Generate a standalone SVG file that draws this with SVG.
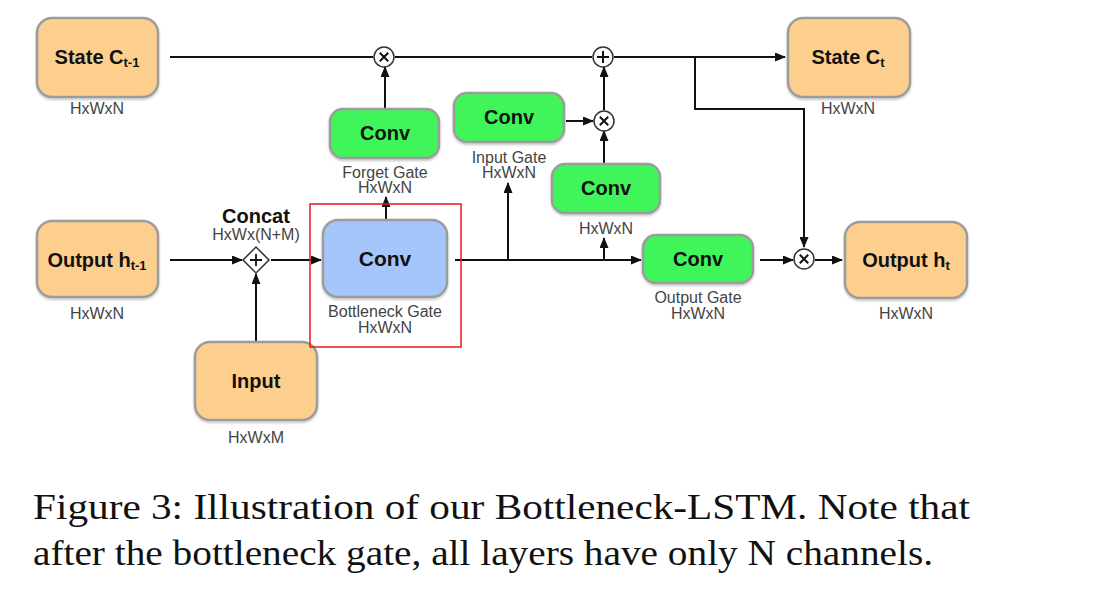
<svg xmlns="http://www.w3.org/2000/svg" width="1097" height="593" viewBox="0 0 1097 593">
<style>
.box{stroke:#9c9c9c;stroke-width:2.5}
.org{fill:#fdcf8f}
.grn{fill:#40f55a}
.blu{fill:#a5c6fa}
.t{font-family:"Liberation Sans",Arial,sans-serif;font-weight:bold;font-size:20px;fill:#111;text-anchor:middle}
.sub{font-size:13px}
.lb{font-family:"Liberation Sans",Arial,sans-serif;font-size:16px;fill:#444;text-anchor:middle}
.ln{fill:none;stroke:#111;stroke-width:2}
.op{fill:#fff;stroke:#333;stroke-width:1.5}
.sym{fill:none;stroke:#111;stroke-width:2}
.cap{font-family:"Liberation Serif","Times New Roman",serif;font-size:36px;fill:#111}
</style>
<defs>
<marker id="ah" markerUnits="userSpaceOnUse" markerWidth="11" markerHeight="9" refX="10" refY="4.5" orient="auto">
<path d="M0,0 L11,4.5 L0,9 z" fill="#111"/>
</marker>
<filter id="sh" x="-10%" y="-10%" width="130%" height="130%">
<feDropShadow dx="0" dy="1.5" stdDeviation="1.2" flood-color="#000" flood-opacity="0.25"/>
</filter>
</defs>

<g id="connectors">
<path class="ln" d="M170,57 H373"/>
<path class="ln" d="M395,57 H592"/>
<path class="ln" d="M614,57 H785" marker-end="url(#ah)"/>
<path class="ln" d="M695,57 V109 H804 V247" marker-end="url(#ah)"/>
<path class="ln" d="M385,108 V67" marker-end="url(#ah)"/>
<path class="ln" d="M386,220 V197" marker-end="url(#ah)"/>
<path class="ln" d="M566,121 H593" marker-end="url(#ah)"/>
<path class="ln" d="M604,110 V67" marker-end="url(#ah)"/>
<path class="ln" d="M604,164 V131" marker-end="url(#ah)"/>
<path class="ln" d="M170,260 H242" marker-end="url(#ah)"/>
<path class="ln" d="M271,260 H321" marker-end="url(#ah)"/>
<path class="ln" d="M256,342 V274" marker-end="url(#ah)"/>
<path class="ln" d="M455,260 H641" marker-end="url(#ah)"/>
<path class="ln" d="M508,260 V183" marker-end="url(#ah)"/>
<path class="ln" d="M604,260 V238" marker-end="url(#ah)"/>
<path class="ln" d="M760,260 H793" marker-end="url(#ah)"/>
<path class="ln" d="M815,260 H842" marker-end="url(#ah)"/>
</g>

<g id="state_prev">
<rect class="box org" x="37" y="18" width="121" height="79" rx="15" filter="url(#sh)"/>
<text class="t" x="97" y="64">State C<tspan class="sub" dy="3">t-1</tspan></text>
<text class="lb" x="97" y="114">HxWxN</text>
</g>

<g id="state_next">
<rect class="box org" x="788" y="18" width="122" height="79" rx="15" filter="url(#sh)"/>
<text class="t" x="848" y="64">State C<tspan class="sub" dy="3">t</tspan></text>
<text class="lb" x="848" y="114">HxWxN</text>
</g>

<g id="output_prev">
<rect class="box org" x="37" y="221" width="121" height="76" rx="15" filter="url(#sh)"/>
<text class="t" x="97" y="267">Output h<tspan class="sub" dy="3">t-1</tspan></text>
<text class="lb" x="97" y="319">HxWxN</text>
</g>

<g id="output_next">
<rect class="box org" x="845" y="222" width="122" height="76" rx="15" filter="url(#sh)"/>
<text class="t" x="906" y="267">Output h<tspan class="sub" dy="3">t</tspan></text>
<text class="lb" x="906" y="319">HxWxN</text>
</g>

<g id="input">
<rect class="box org" x="195" y="342" width="122" height="78" rx="15" filter="url(#sh)"/>
<text class="t" x="256" y="388">Input</text>
<text class="lb" x="256" y="443">HxWxM</text>
</g>

<g id="concat">
<path class="op" d="M256,247 L269,260 L256,273 L243,260 z"/>
<path class="sym" d="M256,254 V266 M250,260 H262" style="stroke-width:1.8"/>
<text class="t" x="256" y="223">Concat</text>
<text class="lb" x="256" y="240">HxWx(N+M)</text>
</g>

<g id="bottleneck_gate">
<rect x="310" y="204" width="151" height="143" fill="none" stroke="#e8191c" stroke-width="1.5"/>
<rect class="box blu" x="323" y="220" width="124" height="77" rx="15" filter="url(#sh)"/>
<text class="t" x="385" y="266" style="font-size:21px">Conv</text>
<text class="lb" x="385" y="317">Bottleneck Gate</text>
<text class="lb" x="385" y="333">HxWxN</text>
</g>

<g id="forget_gate">
<rect class="box grn" x="330" y="109" width="109" height="49" rx="13" filter="url(#sh)"/>
<text class="t" x="385" y="140">Conv</text>
<text class="lb" x="385" y="178">Forget Gate</text>
<text class="lb" x="385" y="193">HxWxN</text>
</g>

<g id="input_gate">
<rect class="box grn" x="454" y="93" width="110" height="49" rx="13" filter="url(#sh)"/>
<text class="t" x="509" y="124">Conv</text>
<text class="lb" x="509" y="163">Input Gate</text>
<text class="lb" x="509" y="178">HxWxN</text>
</g>

<g id="candidate_conv">
<rect class="box grn" x="552" y="164" width="108" height="49" rx="13" filter="url(#sh)"/>
<text class="t" x="606" y="195">Conv</text>
<text class="lb" x="606" y="234">HxWxN</text>
</g>

<g id="output_gate">
<rect class="box grn" x="643" y="235" width="110" height="48" rx="13" filter="url(#sh)"/>
<text class="t" x="698" y="266">Conv</text>
<text class="lb" x="698" y="303">Output Gate</text>
<text class="lb" x="698" y="319">HxWxN</text>
</g>

<g id="mul_forget">
<circle class="op" cx="384" cy="57" r="10"/>
<path class="sym" d="M379.8,52.8 L388.2,61.2 M388.2,52.8 L379.8,61.2"/>
</g>
<g id="add_state">
<circle class="op" cx="603" cy="57" r="10"/>
<path class="sym" d="M603,51 V63 M597,57 H609"/>
</g>
<g id="mul_input">
<circle class="op" cx="604" cy="121" r="10"/>
<path class="sym" d="M599.8,116.8 L608.2,125.2 M608.2,116.8 L599.8,125.2"/>
</g>
<g id="mul_output">
<circle class="op" cx="804" cy="259" r="10"/>
<path class="sym" d="M799.8,254.8 L808.2,263.2 M808.2,254.8 L799.8,263.2"/>
</g>

<g id="caption">
<text class="cap" x="33" y="519" textLength="937" lengthAdjust="spacingAndGlyphs">Figure 3:  Illustration of our Bottleneck-LSTM. Note that</text>
<text class="cap" x="33" y="565" textLength="900" lengthAdjust="spacingAndGlyphs">after the bottleneck gate, all layers have only N channels.</text>
</g>
</svg>
